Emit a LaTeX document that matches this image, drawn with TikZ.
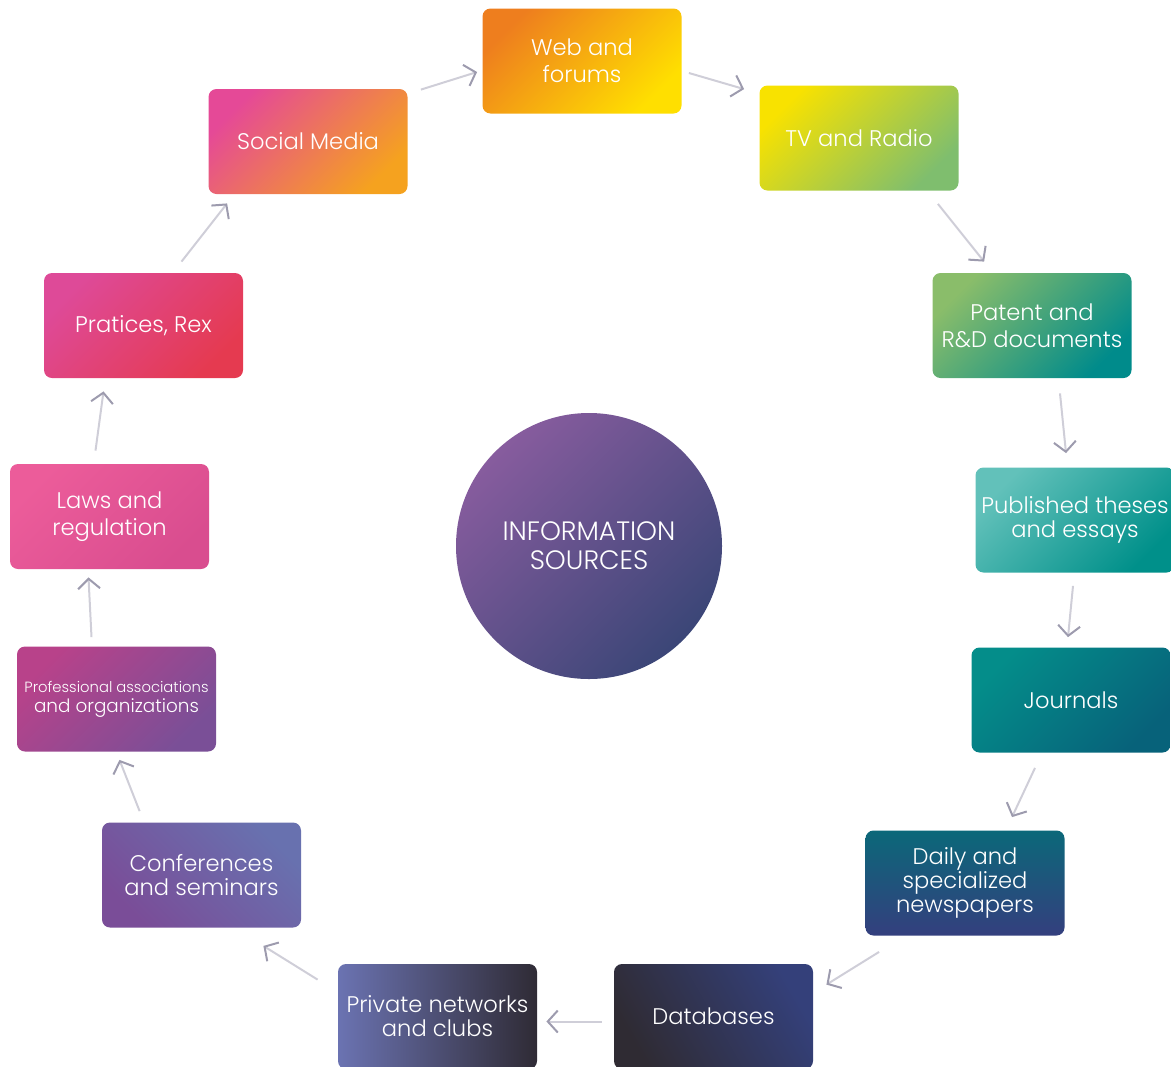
\documentclass[tikz,border=0pt]{standalone}
\usepackage{fontspec}
\setmainfont{Poppins}[UprightFont={* Light}]
\usepackage{xcolor}
\usetikzlibrary{arrows.meta, shapes}

\definecolor{webA}{HTML}{EE7E1E}
\definecolor{webB}{HTML}{FFDF00}
\definecolor{tvA}{HTML}{F8E200}
\definecolor{tvB}{HTML}{7FBE6E}
\definecolor{patA}{HTML}{8ABD6A}
\definecolor{patB}{HTML}{008B8B}
\definecolor{pubA}{HTML}{62C1BA}
\definecolor{pubB}{HTML}{00908A}
\definecolor{jouA}{HTML}{048D8A}
\definecolor{jouB}{HTML}{07627A}
\definecolor{dayA}{HTML}{0B6879}
\definecolor{dayB}{HTML}{343F7E}
\definecolor{dbA}{HTML}{2F2B33}
\definecolor{dbB}{HTML}{34407A}
\definecolor{privA}{HTML}{6B73B2}
\definecolor{privM}{HTML}{5257A0}
\definecolor{privB}{HTML}{2F2B35}
\definecolor{confA}{HTML}{7A4D98}
\definecolor{confB}{HTML}{6871AF}
\definecolor{profA}{HTML}{B8428A}
\definecolor{profB}{HTML}{7A4F97}
\definecolor{lawA}{HTML}{EC5C9A}
\definecolor{lawB}{HTML}{D94D8F}
\definecolor{praA}{HTML}{DE4A98}
\definecolor{praB}{HTML}{E53A50}
\definecolor{socA}{HTML}{E54997}
\definecolor{socB}{HTML}{F5A21F}
\definecolor{infoA}{HTML}{875C9E}
\definecolor{infoM}{HTML}{5F4C98}
\definecolor{infoB}{HTML}{3B4677}
\definecolor{arrowlight}{HTML}{CFCED8}
\definecolor{arrowdark}{HTML}{9D9BAE}

\begin{document}
\begin{tikzpicture}[x=0.5pt,y=-0.5pt]

    \tikzset{flow/.style={draw=arrowlight, line width=1pt,
      -{Straight Barb[length=5pt,width=11pt,color=arrowdark,line width=1pt]}}}
    \tikzstyle{source}=[rounded corners=4pt,minimum width=99.5pt,minimum height=52.5pt,
      inner sep=0pt,text=white,align=center,font=\fontsize{11.3}{13.5}\selectfont]
    \tikzstyle{tight}=[font=\fontsize{11.3}{12}\selectfont]
    \tikzstyle{diag}=[shading angle=45]

    \useasboundingbox (0,0) rectangle (1171,1066);

    % sources around the circle
    \node (web)[source,top color=webA,bottom color=webB,diag] at (582,61) {Web and\\forums};
    \node (tv)[source,top color=tvA,bottom color=tvB,diag] at (859,138) {TV and Radio};
    \node (patent)[source,top color=patA,bottom color=patB,diag] at (1032,325.5) {Patent and\\R\&D documents};
    \node (published)[source,tight,top color=pubA,bottom color=pubB,diag] at (1075,520) {Published theses\\and essays};
    \node (journals)[source,top color=jouA,bottom color=jouB,diag] at (1071,700) {Journals};
    \node (daily)[source,tight,top color=dayA,bottom color=dayB] at (965,883) {Daily and\\specialized\\newspapers};
    \node (databases)[source,top color=dbB,bottom color=dbA,shading angle=-60] at (713.5,1016.5) {Databases};
    \node (private)[source,tight,left color=privA,middle color=privM,right color=privB] at (437.5,1016.5) {Private networks\\and clubs};
    \node (conferences)[source,tight,top color=confB,bottom color=confA,shading angle=-45] at (201.5,875) {Conferences\\and seminars};
    \node (professional)[source,top color=profA,bottom color=profB,diag,font=\fontsize{9.2}{10}\selectfont] at (116.5,699)
      {{\fontsize{7.4}{10}\selectfont Professional associations}\\and organizations};
    \node (laws)[source,top color=lawA,bottom color=lawB,diag] at (109.5,516.5) {Laws and\\regulation};
    \node (pratices)[source,top color=praA,bottom color=praB,diag] at (143.5,325.5) {Pratices, Rex};
    \node (social)[source,top color=socA,bottom color=socB,diag] at (308,141.5) {Social Media};

    % centre
    \node (info)[circle,minimum size=133pt,inner sep=0pt,text=white,align=center,
      top color=infoA,middle color=infoM,bottom color=infoB,diag,
      font=\fontsize{13.3}{14.5}\selectfont] at (589,546) {INFORMATION\\SOURCES};

    % arrows
    \draw[flow] ([xshift=6.5pt,yshift=-0.5pt]social.north east) -- ([xshift=-2.5pt,yshift=-5.5pt]web.west);
    \draw[flow] ([xshift=3.5pt,yshift=-6pt]web.east) -- ([xshift=-7.5pt,yshift=-2pt]tv.north west);
    \draw[flow] ([xshift=-10.5pt,yshift=-6.5pt]tv.south east) -- ([xshift=26pt,yshift=5.5pt]patent.north west);
    \draw[flow] ([xshift=14pt,yshift=-7.5pt]patent.south) -- ([xshift=-4.5pt,yshift=7pt]published.north);
    \draw[flow] ([xshift=-1pt,yshift=-6.5pt]published.south) -- ([xshift=-1.5pt,yshift=5pt]journals.north);
    \draw[flow] ([xshift=-18pt,yshift=-7.5pt]journals.south) -- ([xshift=23.5pt,yshift=6.5pt]daily.north);
    \draw[flow] ([xshift=7pt,yshift=-8pt]daily.south west) -- ([xshift=6.5pt,yshift=-10.5pt]databases.north east);
    \draw[flow] ([xshift=-6pt,yshift=-2.5pt]databases.west) -- ([xshift=4.5pt,yshift=-2.5pt]private.east);
    \draw[flow] ([xshift=-10pt,yshift=-8pt]private.north west) -- ([xshift=-19pt,yshift=-9pt]conferences.south east);
    \draw[flow] ([xshift=19pt,yshift=5.5pt]conferences.north west) -- ([xshift=1.5pt,yshift=-4pt]professional.south);
    \draw[flow] ([xshift=-12.5pt,yshift=4.5pt]professional.north) -- ([xshift=-10.5pt,yshift=-4pt]laws.south);
    \draw[flow] ([xshift=-7pt,yshift=6.5pt]laws.north) -- ([xshift=-20pt,yshift=-6.5pt]pratices.south);
    \draw[flow] ([xshift=19pt,yshift=5.5pt]pratices.north) -- ([xshift=9.5pt,yshift=-4.5pt]social.south west);

\end{tikzpicture}
\end{document}
